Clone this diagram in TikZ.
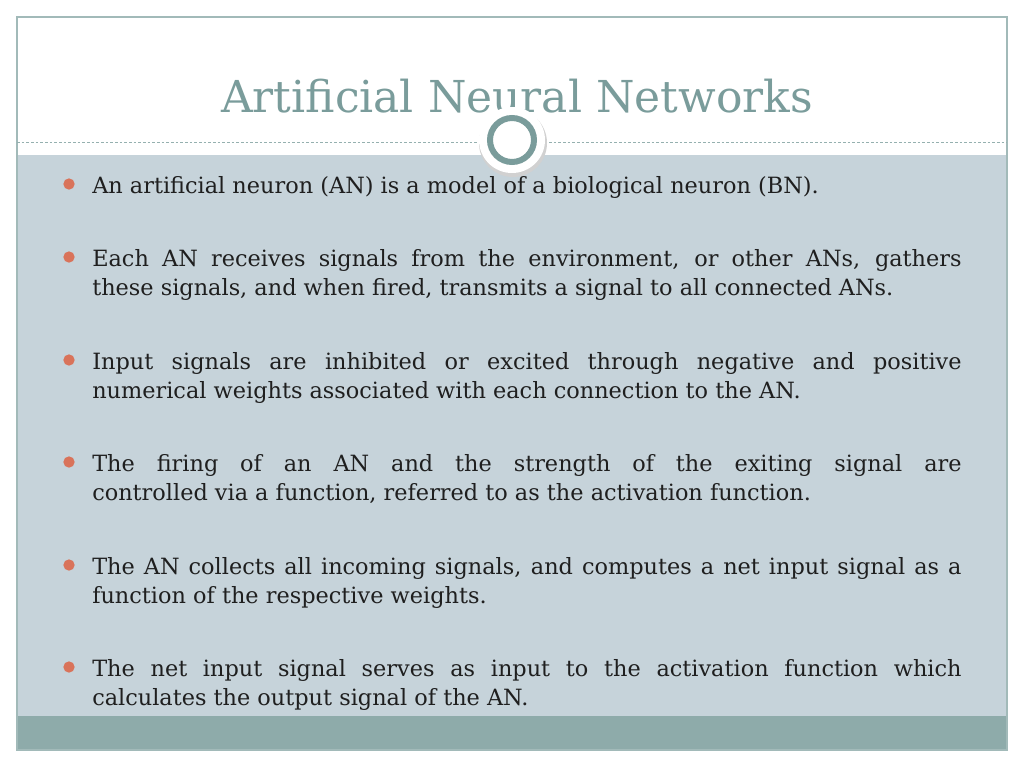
\documentclass[tikz,border=0pt]{standalone}
\usepackage{fontspec}
\setmainfont{DejaVu Serif}
\begin{document}
\begin{tikzpicture}[x=0.75pt,y=-0.75pt,
  bul/.style={anchor=north west,text width=652pt,align=justify,inner sep=0pt,font=\fontsize{16.8}{21.8}\selectfont,text=black!88},
  dot/.style={circle,fill=bulc,inner sep=0pt,minimum size=8.5pt}]
\definecolor{panel}{HTML}{C6D3DA}
\definecolor{band}{HTML}{8EABAA}
\definecolor{teal}{HTML}{7A9C9B}
\definecolor{bulc}{HTML}{D9735A}
\useasboundingbox (0,0) rectangle (1024,768);
\fill[white] (0,0) rectangle (1024,768);
\fill[panel] (17,155) rectangle (1007,716);
\fill[band] (17,716) rectangle (1007,750);
\draw[teal!70,line width=0.8pt] (17,17) rectangle (1007,750);
\draw[teal!80,line width=0.5pt,dash pattern=on 2pt off 1.5pt] (17,142) -- (1007,142);
\node[font=\fontsize{33}{36}\selectfont,text=teal] (title) at (517,96) {Artificial Neural Networks};
\fill[black!18] (513,143) circle (34);
\node[circle,fill=white,minimum size=66*0.75pt,inner sep=0pt] (c1) at (512,140) {};
\node[circle,draw=teal,line width=4.5pt,minimum size=44*0.75pt,inner sep=0pt] (c2) at (512,140) {};
\foreach \y/\t [count=\i] in {
 176/{An artificial neuron (AN) is a model of a biological neuron (BN).},
 249/{Each AN receives signals from the environment, or other ANs, gathers\linebreak these signals, and when fired, transmits a signal to all connected ANs.},
 352/{Input signals are inhibited or excited through negative and positive\linebreak numerical weights associated with each connection to the AN.},
 454/{The firing of an AN and the strength of the exiting signal are\linebreak controlled via a function, referred to as the activation function.},
 557/{The AN collects all incoming signals, and computes a net input signal as a\linebreak function of the respective weights.},
 659/{The net input signal serves as input to the activation function which\linebreak calculates the output signal of the AN.}}{
 \node[dot] (d\i) at (69,\y+8) {};
 \node[bul] (t\i) at (92,\y) {\hyphenpenalty=10000\t};
}
\end{tikzpicture}
\end{document}
